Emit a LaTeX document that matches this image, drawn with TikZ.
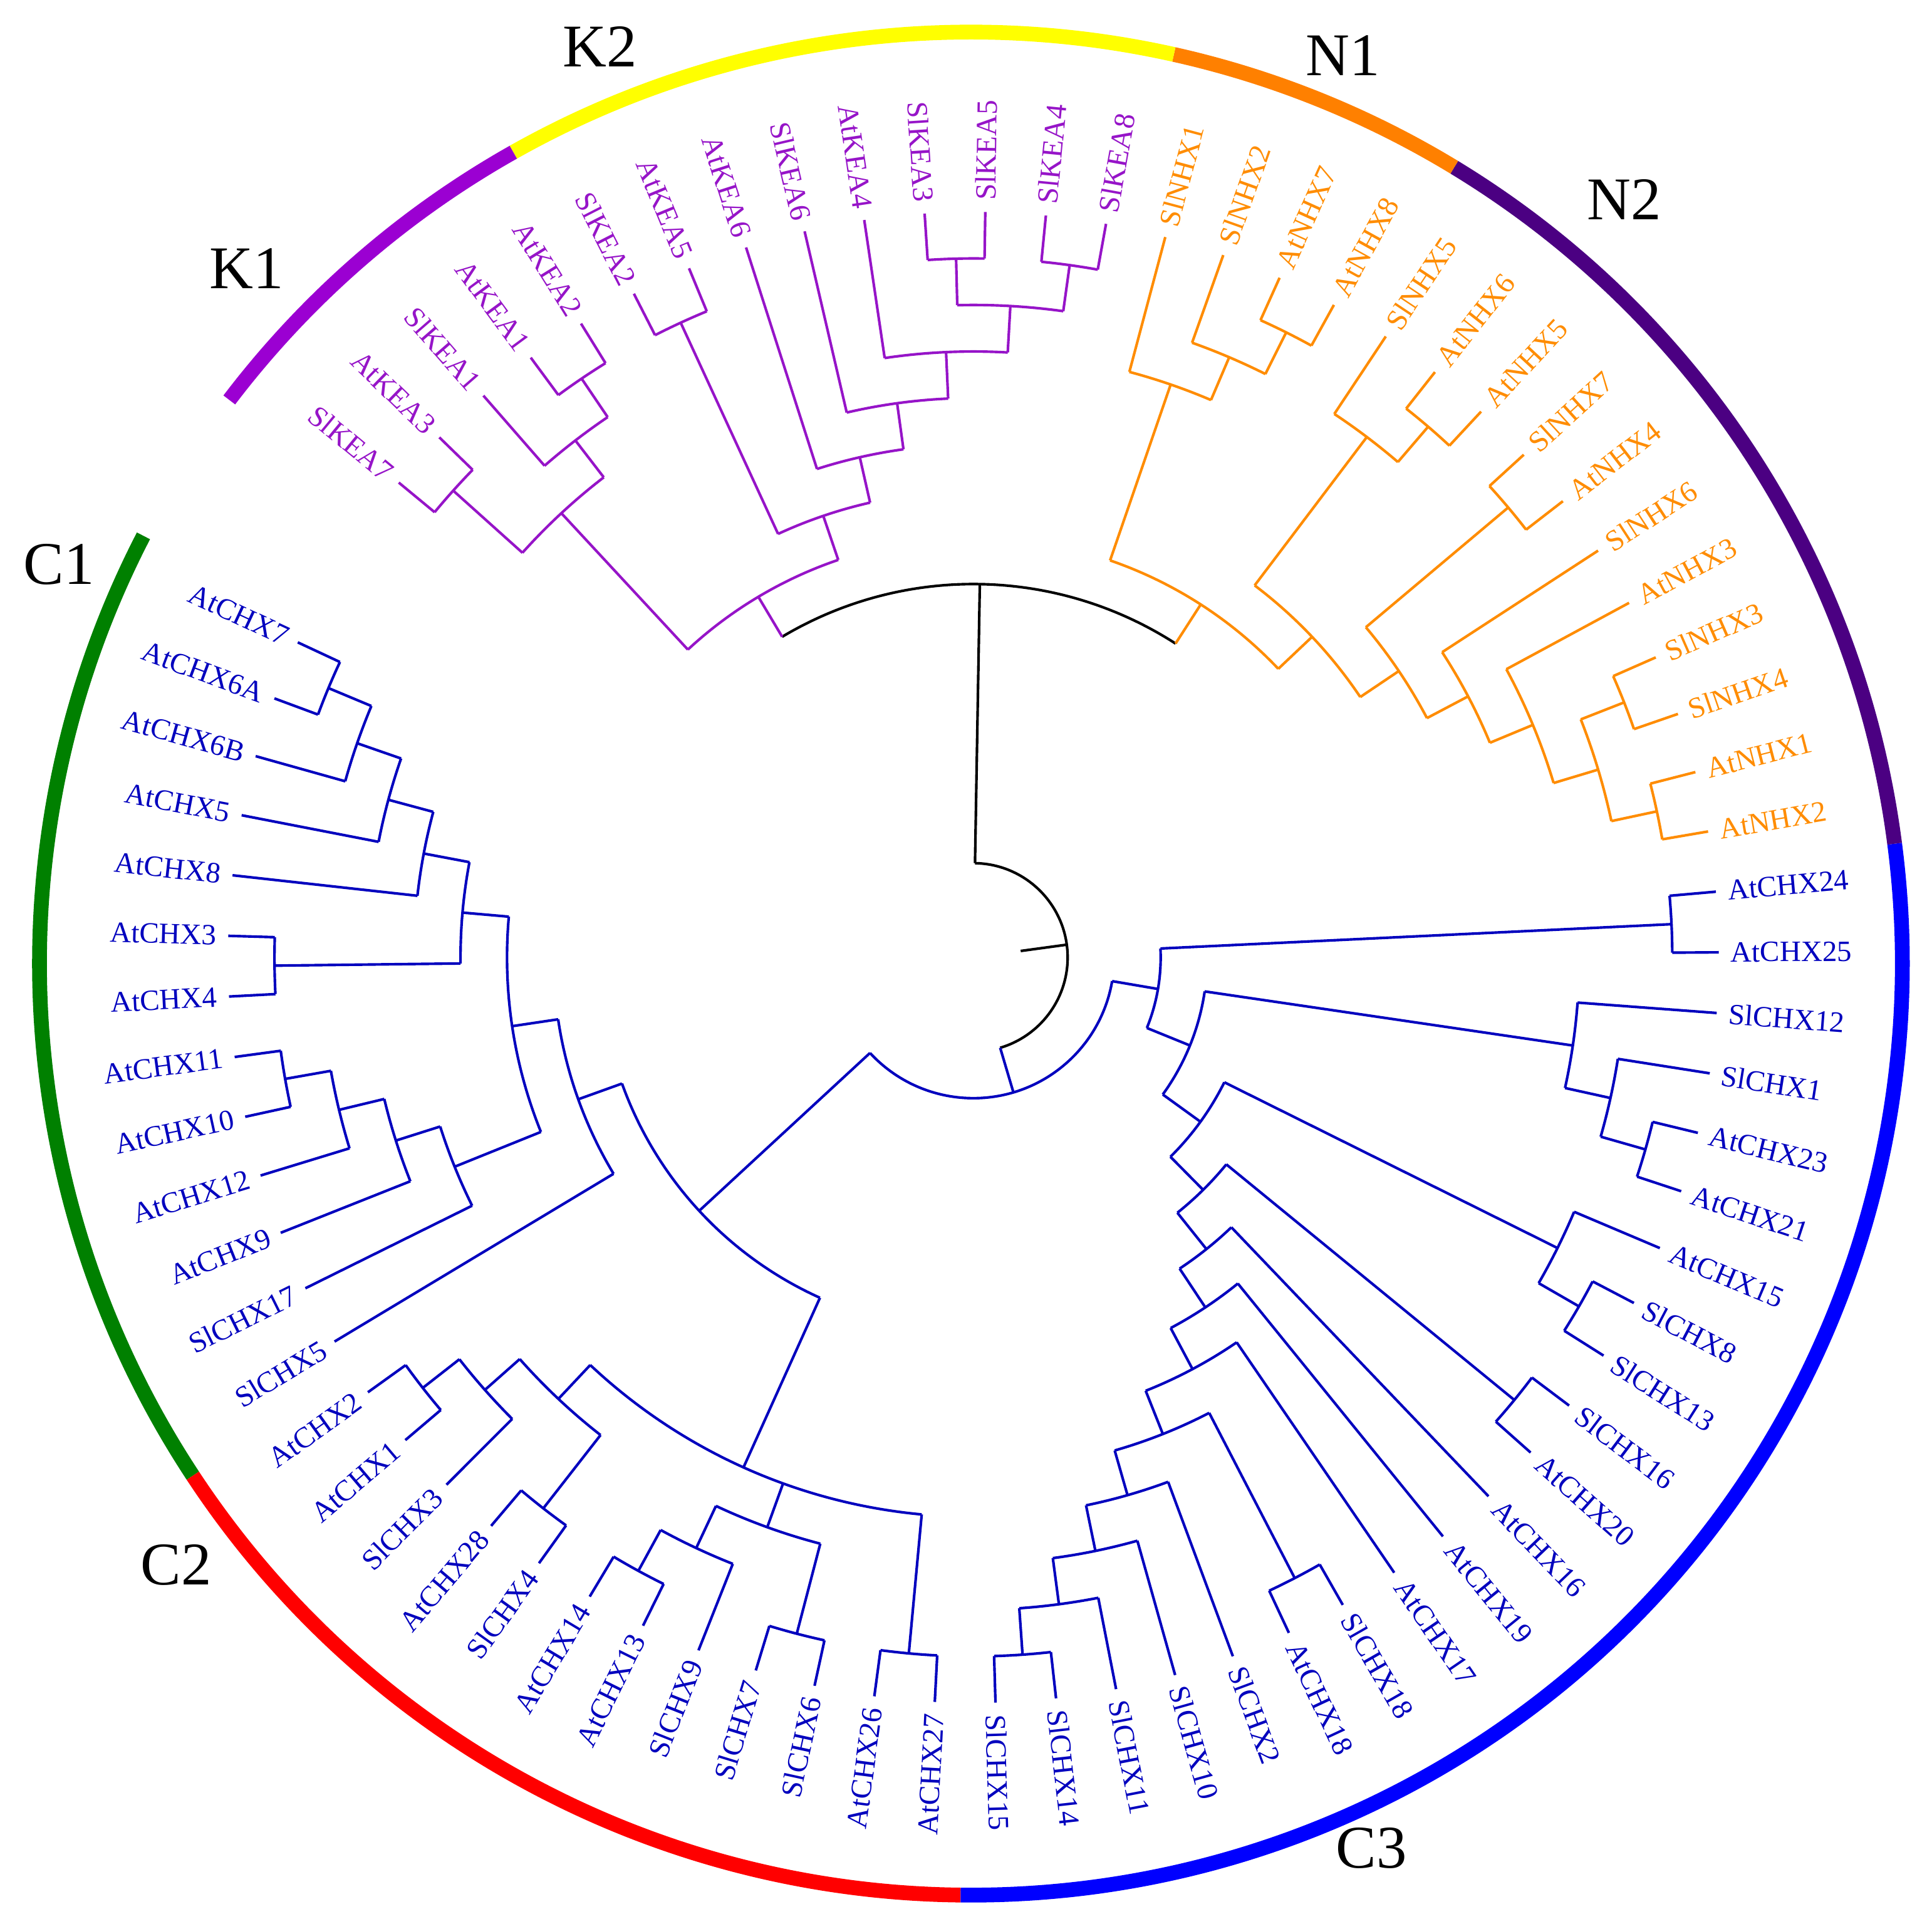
\documentclass[tikz,border=0pt]{standalone}
\usepackage{fontspec}
\setmainfont{Liberation Serif}

\definecolor{kea}{RGB}{150,20,200}
\definecolor{nhx}{RGB}{255,140,0}
\definecolor{chx}{RGB}{0,0,190}
\definecolor{kOne}{RGB}{155,0,210}
\definecolor{kTwo}{RGB}{255,255,0}
\definecolor{nOne}{RGB}{255,128,0}
\definecolor{nTwo}{RGB}{75,0,130}
\definecolor{cThree}{RGB}{0,0,255}
\definecolor{cTwo}{RGB}{255,0,0}
\definecolor{cOne}{RGB}{0,128,0}

\tikzset{
  branch/.style={line width=0.6pt},
  ring/.style={line width=1.2mm},
  leaflbl/.style={font=\fontsize{6.8}{8}\selectfont,inner sep=0pt},
  grplbl/.style={font=\fontsize{14}{16}\selectfont,inner sep=0pt}
}

%% leaf k sits at 155+4.668k degrees, tips on radius 605
\newcommand\leaf[3]{%
  \pgfmathsetmacro\lfang{155+4.668*#2}%
  \expandafter\xdef\csname ang@#1\endcsname{\lfang}%
  \expandafter\xdef\csname hgt@#1\endcsname{0}%
  \expandafter\xdef\csname col@#1\endcsname{#3}%
  \pgfmathsetmacro\lfmod{mod(\lfang,360)}%
  \def\lfanch{west}\let\lfrot\lfmod
  \ifdim\lfmod pt>90pt\ifdim\lfmod pt<270pt\def\lfanch{east}\pgfmathsetmacro\lfrot{\lfmod-180}\fi\fi
  \node[leaflbl,text=#3,anchor=\lfanch,rotate=\lfrot] (#1) at (\lfang:614) {#1};%
}
%% radial line from a parent arc out to a child
\newcommand\branchstem[2]{%
  \edef\sta{\csname ang@#1\endcsname}%
  \edef\stc{\csname col@#1\endcsname}%
  \edef\sth{\csname hgt@#1\endcsname}%
  \pgfmathsetmacro\sts{605-37.75*\sth}%
  \draw[branch,color=\stc] (\sta:#2) -- (\sta:\sts);%
}
%% inner node: name, child, child, colour of its arc
\newcommand\clade[4]{%
  \edef\cfa{\csname ang@#2\endcsname}\edef\cfb{\csname ang@#3\endcsname}%
  \edef\cha{\csname hgt@#2\endcsname}\edef\chb{\csname hgt@#3\endcsname}%
  \pgfmathsetmacro\cfh{max(\cha,\chb)+1}%
  \pgfmathsetmacro\cfr{605-37.75*\cfh}%
  \pgfmathsetmacro\cfm{(\cfa+\cfb)/2}%
  \draw[branch,color=#4] (\cfa:\cfr) arc[start angle=\cfa,end angle=\cfb,radius=\cfr];%
  \branchstem{#2}{\cfr}\branchstem{#3}{\cfr}%
  \coordinate (#1) at (\cfm:\cfr);%
  \expandafter\xdef\csname ang@#1\endcsname{\cfm}%
  \expandafter\xdef\csname hgt@#1\endcsname{\cfh}%
  \expandafter\xdef\csname col@#1\endcsname{#4}%
}
\newcommand\cladethree[5]{%
  \edef\cfa{\csname ang@#2\endcsname}\edef\cfc{\csname ang@#4\endcsname}%
  \edef\cha{\csname hgt@#2\endcsname}\edef\chb{\csname hgt@#3\endcsname}%
  \edef\chc{\csname hgt@#4\endcsname}%
  \pgfmathsetmacro\cfh{max(\cha,\chb,\chc)+1}%
  \pgfmathsetmacro\cfr{605-37.75*\cfh}%
  \pgfmathsetmacro\cfm{(\cfa+\cfc)/2}%
  \draw[branch,color=#5] (\cfa:\cfr) arc[start angle=\cfa,end angle=\cfc,radius=\cfr];%
  \branchstem{#2}{\cfr}\branchstem{#3}{\cfr}\branchstem{#4}{\cfr}%
  \coordinate (#1) at (\cfm:\cfr);%
  \expandafter\xdef\csname ang@#1\endcsname{\cfm}%
  \expandafter\xdef\csname hgt@#1\endcsname{\cfh}%
  \expandafter\xdef\csname col@#1\endcsname{#5}%
}

\begin{document}
\begin{tikzpicture}[x=0.1mm,y=0.1mm]
        \useasboundingbox (-790,-784) rectangle (778,777);
        %% Leaves
        \foreach \n [count=\k from 0] in {AtCHX7,AtCHX6A,AtCHX6B,AtCHX5,AtCHX8,AtCHX3,AtCHX4,AtCHX11,AtCHX10,AtCHX12,AtCHX9,SlCHX17,SlCHX5,AtCHX2,AtCHX1,SlCHX3,AtCHX28,SlCHX4,AtCHX14,AtCHX13,SlCHX9,SlCHX7,SlCHX6,AtCHX26,AtCHX27,SlCHX15,SlCHX14,SlCHX11,SlCHX10,SlCHX2,AtCHX18,SlCHX18,AtCHX17,AtCHX19,AtCHX16,AtCHX20,SlCHX16,SlCHX13,SlCHX8,AtCHX15,AtCHX21,AtCHX23,SlCHX1,SlCHX12,AtCHX25,AtCHX24} {
            \leaf{\n}{\k}{chx}
        }
        \foreach \n [count=\k from 46] in {AtNHX2,AtNHX1,SlNHX4,SlNHX3,AtNHX3,SlNHX6,AtNHX4,SlNHX7,AtNHX5,AtNHX6,SlNHX5,AtNHX8,AtNHX7,SlNHX2,SlNHX1} {
            \leaf{\n}{\k}{nhx}
        }
        \foreach \n [count=\k from 61] in {SlKEA8,SlKEA4,SlKEA5,SlKEA3,AtKEA4,SlKEA6,AtKEA6,AtKEA5,SlKEA2,AtKEA2,AtKEA1,SlKEA1,AtKEA3,SlKEA7} {
            \leaf{\n}{\k}{kea}
        }
        %% KEA
        \clade{kp4}{AtKEA1}{AtKEA2}{kea}
        \clade{kp3}{SlKEA1}{kp4}{kea}
        \clade{kp1}{SlKEA7}{AtKEA3}{kea}
        \clade{kp2}{kp1}{kp3}{kea}
        \clade{kq6}{SlKEA3}{SlKEA5}{kea}
        \clade{kq7}{SlKEA4}{SlKEA8}{kea}
        \clade{kq5}{kq6}{kq7}{kea}
        \clade{kq4}{AtKEA4}{kq5}{kea}
        \clade{kq3}{SlKEA6}{kq4}{kea}
        \clade{kq2}{AtKEA6}{kq3}{kea}
        \clade{kp7}{SlKEA2}{AtKEA5}{kea}
        \clade{kq1}{kp7}{kq2}{kea}
        \clade{KEA}{kp2}{kq1}{kea}
        %% NHX
        \clade{na}{AtNHX7}{AtNHX8}{nhx}
        \clade{nb}{SlNHX2}{na}{nhx}
        \clade{nc}{SlNHX1}{nb}{nhx}
        \clade{ng}{AtNHX6}{AtNHX5}{nhx}
        \clade{ne}{SlNHX5}{ng}{nhx}
        \clade{nh}{SlNHX7}{AtNHX4}{nhx}
        \clade{nl}{SlNHX3}{SlNHX4}{nhx}
        \clade{nm}{AtNHX1}{AtNHX2}{nhx}
        \clade{nk}{nl}{nm}{nhx}
        \clade{nj}{AtNHX3}{nk}{nhx}
        \clade{ni}{SlNHX6}{nj}{nhx}
        \clade{nf}{nh}{ni}{nhx}
        \clade{nd}{ne}{nf}{nhx}
        \clade{NHX}{nc}{nd}{nhx}
        \clade{KN}{KEA}{NHX}{black}
        %% CHX, C1
        \clade{cu}{AtCHX7}{AtCHX6A}{chx}
        \clade{cv}{cu}{AtCHX6B}{chx}
        \clade{cw}{cv}{AtCHX5}{chx}
        \clade{cy}{cw}{AtCHX8}{chx}
        \clade{cz}{AtCHX3}{AtCHX4}{chx}
        \clade{cb1}{cy}{cz}{chx}
        \clade{cx1}{AtCHX11}{AtCHX10}{chx}
        \clade{cx2}{cx1}{AtCHX12}{chx}
        \clade{cx3}{cx2}{AtCHX9}{chx}
        \clade{cx4}{cx3}{SlCHX17}{chx}
        \clade{ca1}{cb1}{cx4}{chx}
        \clade{C1}{ca1}{SlCHX5}{chx}
        %% CHX, C2
        \clade{da1}{AtCHX2}{AtCHX1}{chx}
        \clade{da2}{da1}{SlCHX3}{chx}
        \clade{da3}{AtCHX28}{SlCHX4}{chx}
        \clade{da}{da2}{da3}{chx}
        \clade{db1}{AtCHX14}{AtCHX13}{chx}
        \clade{db2}{db1}{SlCHX9}{chx}
        \clade{db3}{SlCHX7}{SlCHX6}{chx}
        \clade{db}{db2}{db3}{chx}
        \clade{dc}{AtCHX26}{AtCHX27}{chx}
        \cladethree{C2}{da}{db}{dc}{chx}
        \clade{C12}{C1}{C2}{chx}
        %% CHX, C3
        \clade{ex}{AtCHX25}{AtCHX24}{chx}
        \clade{ec}{AtCHX23}{AtCHX21}{chx}
        \clade{eb}{SlCHX1}{ec}{chx}
        \clade{ea}{SlCHX12}{eb}{chx}
        \clade{ee2}{SlCHX8}{SlCHX13}{chx}
        \clade{ee}{AtCHX15}{ee2}{chx}
        \clade{ef1}{SlCHX16}{AtCHX20}{chx}
        \clade{eo}{SlCHX15}{SlCHX14}{chx}
        \clade{en}{SlCHX11}{eo}{chx}
        \clade{em}{SlCHX10}{en}{chx}
        \clade{el}{SlCHX2}{em}{chx}
        \clade{ek}{AtCHX18}{SlCHX18}{chx}
        \clade{ej}{ek}{el}{chx}
        \clade{ei}{AtCHX17}{ej}{chx}
        \clade{eh}{AtCHX19}{ei}{chx}
        \clade{eg}{AtCHX16}{eh}{chx}
        \clade{ef}{ef1}{eg}{chx}
        \clade{ed}{ee}{ef}{chx}
        \clade{eb3}{ea}{ed}{chx}
        \clade{C3}{ex}{eb3}{chx}
        \clade{CHX}{C12}{C3}{chx}
        %% root
        \clade{root}{KN}{CHX}{black}
        \edef\rta{\csname ang@root\endcsname}
        \coordinate (stub) at (\rta:38.75);
        \draw[branch] (stub) -- (root);
        %% outer ring
        \begin{scope}[shift={(-2,-5)}]
        \foreach \ka/\kb/\rc in {-0.5/12.5/cOne,12.5/24.5/cTwo,24.5/45.5/cThree,45.5/56.5/nTwo,56.5/60.5/nOne,60.5/69.5/kTwo,69.5/74.5/kOne} {
            \pgfmathsetmacro\ra{155+4.668*\ka}
            \pgfmathsetmacro\rb{155+4.668*\kb}
            \draw[ring,color=\rc] (\ra:756) arc[start angle=\ra,end angle=\rb,radius=756];
        }
        \end{scope}
        %% group names
        \node[grplbl] (labK1) at (-590,559) {K1};
        \node[grplbl] (labK2) at (-303,739) {K2};
        \node[grplbl] (labN1) at (300,732) {N1};
        \node[grplbl] (labN2) at (528,615) {N2};
        \node[grplbl] (labC1) at (-742,319) {C1};
        \node[grplbl] (labC2) at (-647,-493) {C2};
        \node[grplbl] (labC3) at (323,-723) {C3};
    \end{tikzpicture}
\end{document}
